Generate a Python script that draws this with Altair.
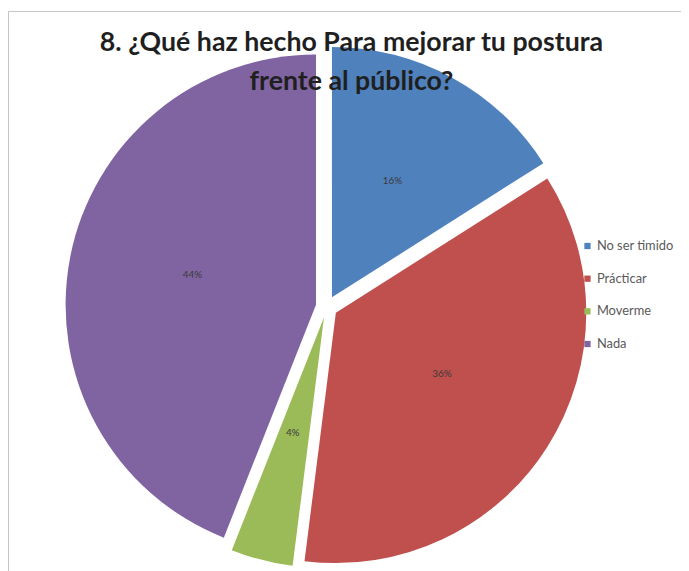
import math
import altair as alt
import pandas as pd

cats = ["No ser timido", "Prácticar", "\u00a0Moverme", "Nada"]
vals = [16, 36, 4, 44]
labels = ["16%", "36%", "4%", "44%"]
colors = ["#4F81BD", "#C0504D", "#9BBB59", "#8064A2"]

df = pd.DataFrame({"cat": cats, "v": vals, "lab": labels, "order": list(range(len(cats)))})

W, H = 680, 575
CX, CY = 322, 299
R = 253
D = 11
LR = 127

FONT = "Lato, Open Sans, sans-serif"

base = (
    alt.Chart(df)
    .transform_window(cum="sum(v)", sort=[alt.SortField("order")])
    .transform_calculate(start="datum.cum - datum.v",
                         mid="(datum.cum - datum.v / 2) / 100 * 2 * PI")
    .transform_calculate(
        px=f"{CX} + {D} * sin(datum.mid)",
        py=f"{CY} - {D} * cos(datum.mid)",
        lx=f"{CX} + {D + LR} * sin(datum.mid)",
        ly=f"{CY} - {D + LR} * cos(datum.mid) - 6",
    )
)

arcs = base.mark_arc(outerRadius=R).encode(
    x=alt.X("px:Q", scale=None, axis=None),
    y=alt.Y("py:Q", scale=None, axis=None),
    theta=alt.Theta("start:Q", stack=False,
                    scale=alt.Scale(domain=[0, 100], range=[0, 2 * math.pi])),
    theta2="cum:Q",
    color=alt.Color(
        "cat:N",
        scale=alt.Scale(domain=cats, range=colors),
        sort=cats,
        legend=alt.Legend(
            title=None, orient="none", legendX=579, legendY=231,
            symbolType="square", symbolSize=40, symbolStrokeWidth=0,
            labelFont=FONT, labelFontSize=13, labelColor="#5a5a5a",
            rowPadding=19, labelOffset=3,
        ),
    ),
)

texts = base.mark_text(font=FONT, fontSize=10, color="#3a3a3a").encode(
    x=alt.X("lx:Q", scale=None, axis=None),
    y=alt.Y("ly:Q", scale=None, axis=None),
    text="lab:N",
)

chart = (
    alt.layer(arcs, texts)
    .properties(
        width=W, height=H, padding=0,
        autosize=alt.AutoSizeParams(type="none"),
        title=alt.TitleParams(
            text=["8. ¿Qué haz hecho Para mejorar tu postura", "frente al público?"],
            font=FONT, fontSize=27, fontWeight="bold", color="#1f1f1f",
            anchor="middle", offset=-86, lineHeight=40, dx=7,
        ),
    )
    .configure_view(stroke="#c4c4c4", strokeWidth=1)
)

chart.save("out.html", embed_options={"renderer": "svg", "actions": False})
